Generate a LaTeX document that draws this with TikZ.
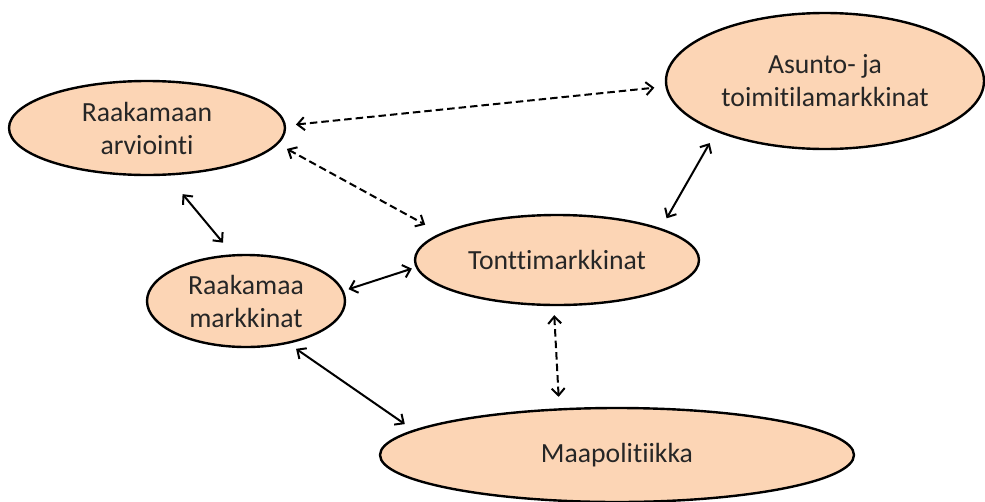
\documentclass[tikz,border=0pt]{standalone}
\usepackage{fontspec}
\setmainfont{Carlito}[Ligatures={NoCommon}]
\usetikzlibrary{shapes.geometric,arrows.meta}
\definecolor{peach}{HTML}{FCD5B5}
\definecolor{txt}{HTML}{262626}
\begin{document}
\begin{tikzpicture}[x=1pt,y=-1pt,
 bubble/.style={ellipse,draw=black,line width=2.4pt,fill=peach,inner sep=0pt,text=txt,align=center,font=\fontsize{27.7}{33}\selectfont},
 link/.style={line width=2pt,{Straight Barb[length=7pt,width=13pt]}-{Straight Barb[length=7pt,width=13pt]}},
 dlink/.style={link,dash pattern=on 7.5pt off 4pt}]
\useasboundingbox (0,0) rectangle (985,501);
\node[bubble,minimum width=276pt,minimum height=94pt] (ra) at (147,128) {Raakamaan\\arviointi};
\node[bubble,minimum width=318pt,minimum height=136pt] (as) at (825,81) {Asunto- ja\\toimitilamarkkinat};
\node[bubble,minimum width=284pt,minimum height=90pt] (tm) at (557,260) {Tonttimarkkinat};
\node[bubble,minimum width=198pt,minimum height=92pt] (rm) at (246,301) {Raakamaa\\markkinat};
\node[bubble,minimum width=474pt,minimum height=94pt] (mp) at (617,455) {Maapolitiikka};
\draw[dlink, shorten <=10pt, shorten >=11pt] (ra.1.2) -- (as.182.9);
\draw[dlink, shorten <=10pt, shorten >=17.5pt] (ra.-7.5) -- (tm.167.1);
\draw[link, shorten <=24pt, shorten >=15pt] (ra.-67.6) -- (rm.106);
\draw[link, shorten <=5pt, shorten >=4pt] (rm.6.5) -- (tm.183.7);
\draw[link, shorten <=9pt, shorten >=10.4pt] (rm.-45.9) -- (mp.173.2);
\draw[dlink, shorten <=9pt, shorten >=11.4pt] (tm.-94.5) -- (mp.141);
\draw[link, shorten <=13pt, shorten >=11.4pt] (as.-155.8) -- (tm.17.4);
\end{tikzpicture}
\end{document}
